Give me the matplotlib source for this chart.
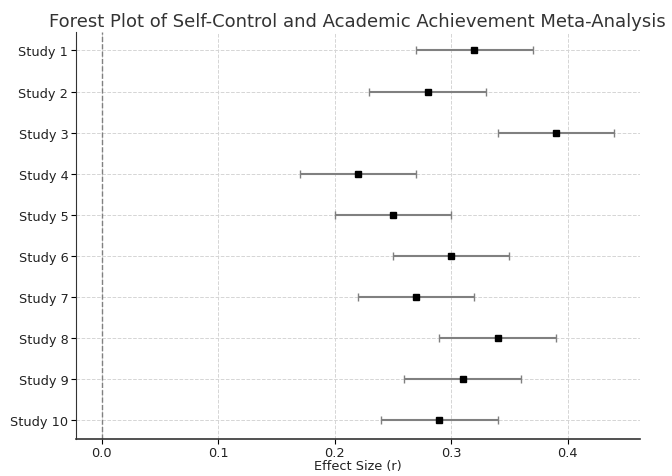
import matplotlib.pyplot as plt

studies = ["Study 1", "Study 2", "Study 3", "Study 4", "Study 5",
           "Study 6", "Study 7", "Study 8", "Study 9", "Study 10"]
effect = [0.32, 0.28, 0.39, 0.22, 0.25, 0.30, 0.27, 0.34, 0.31, 0.29]
ci_low = [0.27, 0.23, 0.34, 0.17, 0.20, 0.25, 0.22, 0.29, 0.26, 0.24]
ci_high = [0.37, 0.33, 0.44, 0.27, 0.30, 0.35, 0.32, 0.39, 0.36, 0.34]

fig = plt.figure(figsize=(6.72, 4.77), dpi=100)
ax = fig.add_axes([0.113, 0.078, 0.839, 0.853])

ypos = list(range(len(studies)))
err = [[e - lo for e, lo in zip(effect, ci_low)],
       [hi - e for e, hi in zip(effect, ci_high)]]

ax.errorbar(effect, ypos, xerr=err, fmt="s", color="black", ecolor="gray",
            elinewidth=1.5, capsize=3, markersize=5, zorder=3)
ax.axvline(0, color="gray", linestyle="--", linewidth=1)

ax.set_yticks(ypos)
ax.set_yticklabels(studies, fontsize=9.3, color="#222222")
ax.invert_yaxis()
ax.tick_params(axis="x", labelsize=9.3, pad=1.5, labelcolor="#222222")
ax.tick_params(axis="y", pad=2)
ax.set_xlabel("Effect Size (r)", fontsize=9.3, labelpad=0, color="#222222")
ax.set_title("Forest Plot of Self-Control and Academic Achievement Meta-Analysis",
             fontsize=13, color="#333333", pad=4)

ax.grid(True, linestyle="--", color="#d5d5d5", linewidth=0.7)
ax.set_axisbelow(True)
for s in ["top", "right"]:
    ax.spines[s].set_visible(False)
ax.spines["left"].set_color("#333333")
ax.spines["bottom"].set_color("#333333")
ax.spines["bottom"].set_linewidth(1.2)

fig.savefig("out.png")
